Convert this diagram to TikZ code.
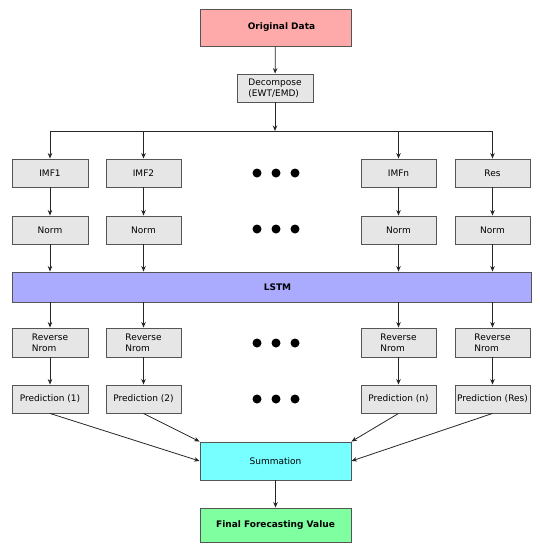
\documentclass[tikz,border=0pt]{standalone}
\usepackage{fontspec}
\setmainfont{DejaVu Sans}
\usetikzlibrary{arrows.meta}
\definecolor{edgegray}{HTML}{555555}
\definecolor{boxgray}{HTML}{E6E6E6}
\definecolor{pinkfill}{HTML}{FFAAAA}
\definecolor{lstmfill}{HTML}{AAAAFF}
\definecolor{sumfill}{HTML}{77FFFF}
\definecolor{finalfill}{HTML}{80FFA0}
\tikzset{
  box/.style={draw=edgegray, line width=0.9pt, fill=boxgray, rectangle, inner sep=1pt,
    minimum width=75pt, minimum height=28pt, font=\fontsize{9}{11}\selectfont, align=left},
  bigbox/.style={box, minimum width=151pt, font=\fontsize{9}{11}\selectfont\bfseries},
  conn/.style={draw=black!85, line width=0.8pt},
  arr/.style={conn, -{Stealth[length=5.5pt,width=4.5pt]}},
  dot/.style={fill=black}
}
\begin{document}
\begin{tikzpicture}[x=1pt,y=-1pt]
\useasboundingbox (0,0) rectangle (540,550);
% top
\node[bigbox, fill=pinkfill, minimum height=37pt] (orig) at (275.5,27.5) {\hspace{12pt}Original Data};
\node[box, minimum width=76pt] (dec) at (275,88) {Decompose\\(EWT/EMD)};
\coordinate (split) at (275,131);
% IMF row
\node[box, minimum width=76pt] (imf1) at (50,173) {IMF1};
\node[box] (imf2) at (143.5,173) {IMF2};
\node[box] (imfn) at (398.5,173) {IMFn};
\node[box] (res) at (492.5,173) {Res};
% Norm row
\node[box, minimum width=76pt] (n1) at (50,230) {Norm};
\node[box] (n2) at (143.5,230) {Norm};
\node[box] (nn) at (398.5,230) {Norm};
\node[box] (nres) at (492.5,230) {Norm};
% LSTM
\node[box, fill=lstmfill, minimum width=519pt, minimum height=30pt, font=\fontsize{9}{11}\selectfont\bfseries] (lstm) at (271.5,287) {\hspace{12pt}LSTM};
% Reverse row
\node[box, minimum width=76pt, minimum height=29pt] (r1) at (50,342.5) {Reverse\\Nrom};
\node[box, minimum height=29pt] (r2) at (143.5,342.5) {Reverse\\Nrom};
\node[box, minimum height=29pt] (rn) at (398.5,342.5) {Reverse\\Nrom};
\node[box, minimum height=29pt] (rres) at (492.5,342.5) {Reverse\\Nrom};
% Prediction row
\node[box, minimum width=76pt] (p1) at (50,399) {Prediction (1)};
\node[box] (p2) at (143.5,399) {Prediction (2)};
\node[box] (pn) at (398.5,399) {Prediction (n)};
\node[box] (pres) at (492.5,399) {Prediction (Res)};
% bottom
\node[box, fill=sumfill, minimum width=151pt, minimum height=38pt] (sum) at (275.5,461) {Summation};
\node[bigbox, fill=finalfill, minimum height=34pt] (final) at (275.5,525) {Final Forecasting Value};
% connectors
\draw[arr] (orig) -- (dec);
\draw[arr] (dec) -- (split);
\draw[conn] (split -| imf1) -- (split -| res);
\foreach \c in {imf1,imf2,imfn,res} \draw[arr] (split -| \c) -- (\c);
\draw[arr] (imf1) -- (n1);
\draw[arr] (imf2) -- (n2);
\draw[arr] (imfn) -- (nn);
\draw[arr] (res) -- (nres);
\foreach \c in {n1,n2,nn,nres} \draw[arr] (\c) -- (lstm.north -| \c);
\foreach \c in {r1,r2,rn,rres} \draw[arr] (lstm.south -| \c) -- (\c);
\draw[arr] (r1) -- (p1);
\draw[arr] (r2) -- (p2);
\draw[arr] (rn) -- (pn);
\draw[arr] (rres) -- (pres);
\draw[arr] (p1.south) -- (sum.west);
\draw[arr] (p2.south) -- (sum.north west);
\draw[arr] (pn.south) -- (sum.north east);
\draw[arr] (pres.south) -- (sum.east);
\draw[arr] (sum) -- (final);
% ellipsis dots
\foreach \y in {173,229,343,399}
  \foreach \x in {257,276,295}
    \fill[dot] (\x,\y) circle (4.5);
\end{tikzpicture}
\end{document}
